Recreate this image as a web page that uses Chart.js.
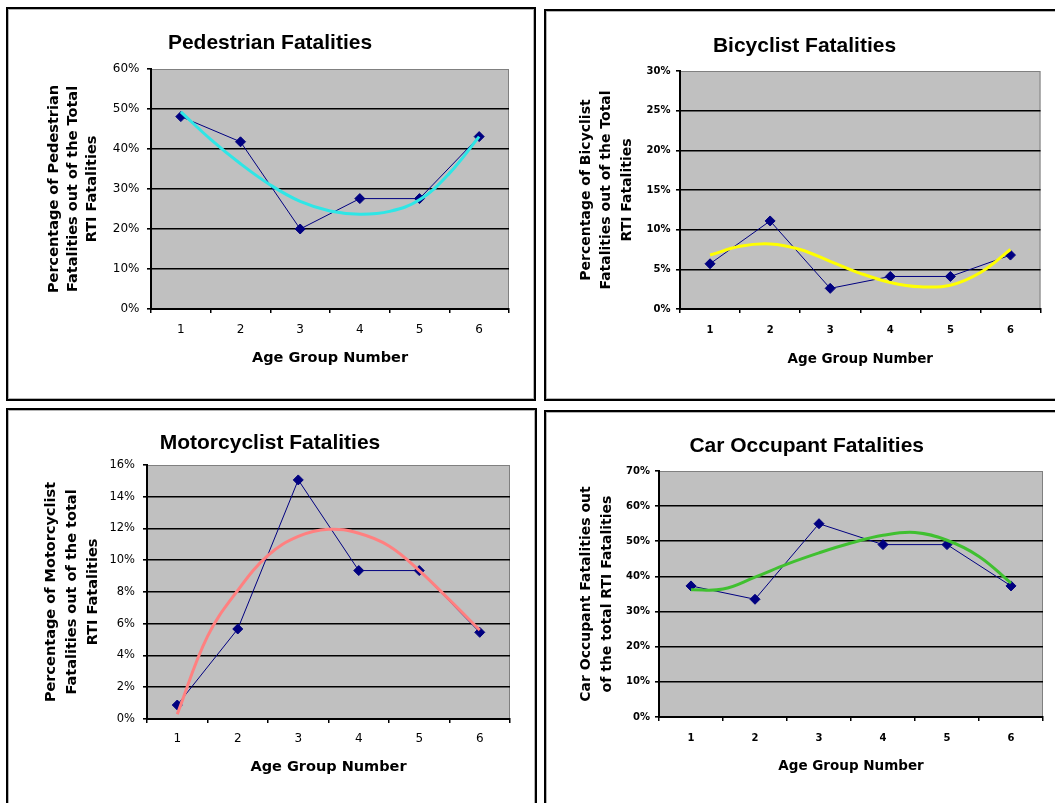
<!DOCTYPE html>
<html>
<head>
<meta charset="utf-8">
<title>RTI Fatalities by Age Group</title>
<script src="https://cdn.jsdelivr.net/npm/chart.js@4.4.1/dist/chart.umd.min.js"></script>
<style>
  html, body { margin: 0; padding: 0; background: #fff; }
  body { width: 1055px; height: 803px; position: relative; overflow: hidden; }
  .panel { position: absolute; box-sizing: border-box; border: 2px solid #000;
           box-shadow: inset 0 0 0 1px #b4b4b4; background: #fff; }
  canvas { position: absolute; left: 0; top: 0; }
</style>
</head>
<body>
<div class="panel" style="left:6px;top:7px;width:530px;height:394px"></div>
<div class="panel" style="left:544px;top:9px;width:600px;height:392px"></div>
<div class="panel" style="left:6px;top:408px;width:531px;height:500px"></div>
<div class="panel" style="left:544px;top:410px;width:600px;height:500px"></div>

<canvas id="pedestrian" width="1055" height="803"></canvas>
<canvas id="bicyclist" width="1055" height="803"></canvas>
<canvas id="motorcyclist" width="1055" height="803"></canvas>
<canvas id="car" width="1055" height="803"></canvas>

<script>
// Age groups on the horizontal axis
const ageGroups = ['1', '2', '3', '4', '5', '6'];
// Positions along the age axis where each trend curve is sampled
const trendPositions = [1, 1.5, 2, 2.5, 3, 3.5, 4, 4.5, 5, 5.5, 6];

// Share of all RTI fatalities (%) per age group, with the fitted trend
const pedestrianShare = [48.1, 41.8, 20.0, 27.6, 27.6, 43.1];
const pedestrianTrend = [49.3, 42.4, 36.3, 31.0, 26.9, 24.5, 23.7, 24.4, 27.3, 33.9, 43.1];
const pedestrianTicks = [0, 10, 20, 30, 40, 50, 60];

const bicyclistShare = [5.7, 11.1, 2.6, 4.1, 4.1, 6.8];
const bicyclistTrend = [6.8, 7.9, 8.2, 7.5, 6.0, 4.5, 3.35, 2.8, 3.0, 4.6, 7.5];
const bicyclistTicks = [0, 5, 10, 15, 20, 25, 30];

const motorcyclistShare = [0.88, 5.67, 15.06, 9.35, 9.35, 5.46];
const motorcyclistTrend = [0.3, 5.2, 8.1, 10.3, 11.5, 11.95, 11.7, 10.9, 9.35, 7.5, 5.6];
const motorcyclistTicks = [0, 2, 4, 6, 8, 10, 12, 14, 16];

const carShare = [37.3, 33.5, 55.0, 49.05, 49.05, 37.3];
const carTrend = [36.2, 36.4, 39.8, 43.5, 46.7, 49.5, 51.7, 52.5, 50.3, 45.7, 38.1];
const carTicks = [0, 10, 20, 30, 40, 50, 60, 70];

const CANVAS_W = 1055, CANVAS_H = 803;
const WIDE = 'DejaVu Sans, Verdana, sans-serif';
const TITLE_FAMILY = 'Liberation Sans, Arial, sans-serif';

// Grey plot area with a thin darker frame, painted under the grid
const plotBackground = {
  id: 'plotBackground',
  beforeDraw(chart) {
    const { ctx, chartArea: a } = chart;
    ctx.save();
    ctx.fillStyle = '#c0c0c0';
    ctx.fillRect(a.left, a.top, a.right - a.left, a.bottom - a.top);
    ctx.strokeStyle = '#808080';
    ctx.lineWidth = 1;
    ctx.strokeRect(a.left + 0.5, a.top + 0.5, a.right - a.left - 1, a.bottom - a.top - 1);
    ctx.restore();
  }
};

function makeChart(id, p) {
  const padL = 2 * p.titleX - p.plot.r;
  const titleLH = p.titleSize * 1.2;
  const titleTop = p.titleY - p.top - titleLH / 2;
  const titleBottom = p.plot.t - p.top - titleLH - titleTop;
  const yMin = p.ticks[0], yMax = p.ticks[p.ticks.length - 1];
  const yStep = p.ticks[1] - p.ticks[0];
  const yTitleLH = p.yTitleLine;
  const xTickLH = p.xTickFont.size * 1.2;
  const xTitleLH = p.xTitleFont.size * 1.2;

  return new Chart(document.getElementById(id), {
    type: 'line',
    data: {
      labels: ageGroups,
      datasets: [
        {
          label: 'Trend',
          data: trendPositions.map((x, i) => ({ x: x, y: p.trend[i] })),
          xAxisID: 'xt', yAxisID: 'y',
          borderColor: p.trendColor, borderWidth: 3,
          pointRadius: 0, tension: 0.4, fill: false, order: 0
        },
        {
          label: 'Share',
          data: p.values,
          xAxisID: 'x', yAxisID: 'y',
          borderColor: '#000080', borderWidth: 1,
          pointStyle: 'rectRot', pointRadius: 5,
          pointBackgroundColor: '#000080', pointBorderColor: '#000080',
          tension: 0, fill: false, order: 1
        }
      ]
    },
    options: {
      responsive: false,
      animation: false,
      devicePixelRatio: 1,
      events: [],
      layout: {
        padding: { left: padL, right: CANVAS_W - p.plot.r, top: p.top, bottom: CANVAS_H - p.bottom }
      },
      plugins: {
        legend: { display: false },
        tooltip: { enabled: false },
        title: {
          display: true,
          text: p.title,
          color: '#000',
          font: { family: TITLE_FAMILY, size: p.titleSize, weight: 'bold', lineHeight: 1.2 },
          padding: { top: titleTop, bottom: titleBottom }
        }
      },
      scales: {
        x: {
          type: 'category',
          position: 'bottom',
          offset: true,
          grid: { offset: true, drawOnChartArea: false, drawTicks: true, tickLength: 4, color: '#000', lineWidth: 1.5 },
          border: { display: true, color: '#000', width: 2 },
          ticks: {
            color: '#000', font: p.xTickFont, maxRotation: 0, autoSkip: false,
            padding: p.xTickY - p.plot.b - 4 - xTickLH / 2
          },
          title: {
            display: true, text: 'Age Group Number', color: '#000', font: p.xTitleFont,
            padding: { top: 0, bottom: p.bottom - p.xTitleY - xTitleLH / 2 }
          },
          afterFit: s => { s.height = p.bottom - p.plot.b; }
        },
        xt: { type: 'linear', display: false, min: 0.5, max: 6.5 },
        y: {
          type: 'linear',
          position: 'left',
          min: yMin, max: yMax,
          grid: {
            color: c => (c.tick && c.tick.value === yMax) ? 'rgba(0,0,0,0)' : '#000',
            tickColor: '#000', lineWidth: 1.6, drawTicks: true, tickLength: 4
          },
          border: { display: true, color: '#000', width: 2 },
          ticks: {
            stepSize: yStep, color: '#000', font: p.yTickFont,
            padding: p.plot.l - 4 - p.yTickRight,
            callback: v => v + '%'
          },
          title: {
            display: true, text: p.yTitle, color: '#000',
            font: Object.assign({}, p.yTitleFont, { lineHeight: yTitleLH + 'px' }),
            padding: { top: p.yTitleX - padL - yTitleLH / 2, bottom: 0 }
          },
          afterFit: s => { s.width = p.plot.l - padL; }
        }
      }
    },
    plugins: [plotBackground]
  });
}

makeChart('pedestrian', {
  title: 'Pedestrian Fatalities', titleSize: 21, titleX: 270, titleY: 43.5, top: 10, bottom: 398,
  plot: { l: 151, t: 69, r: 509, b: 309 },
  values: pedestrianShare, trend: pedestrianTrend, ticks: pedestrianTicks, trendColor: '#2ee6e6',
  yTitle: ['Percentage of Pedestrian', 'Fatalities out of the Total', 'RTI Fatalities'],
  yTitleFont: { family: WIDE, size: 14.5, weight: 'bold' }, yTitleLine: 19, yTitleX: 54,
  yTickFont: { family: WIDE, size: 12 }, yTickRight: 139.5,
  xTickFont: { family: WIDE, size: 12 }, xTickY: 330,
  xTitleFont: { family: WIDE, size: 14.5, weight: 'bold' }, xTitleY: 358
});

makeChart('bicyclist', {
  title: 'Bicyclist Fatalities', titleSize: 21, titleX: 804.5, titleY: 46.7, top: 11, bottom: 398,
  plot: { l: 680, t: 71, r: 1040.5, b: 309 },
  values: bicyclistShare, trend: bicyclistTrend, ticks: bicyclistTicks, trendColor: '#ffff00',
  yTitle: ['Percentage of Bicyclist', 'Fatalities out of the Total', 'RTI Fatalities'],
  yTitleFont: { family: WIDE, size: 14, weight: 'bold' }, yTitleLine: 20.5, yTitleX: 586,
  yTickFont: { family: WIDE, size: 10, weight: 'bold' }, yTickRight: 670.5,
  xTickFont: { family: WIDE, size: 10, weight: 'bold' }, xTickY: 330,
  xTitleFont: { family: WIDE, size: 13.5, weight: 'bold' }, xTitleY: 359
});

makeChart('motorcyclist', {
  title: 'Motorcyclist Fatalities', titleSize: 21, titleX: 270, titleY: 443, top: 410, bottom: 803,
  plot: { l: 147, t: 465, r: 510, b: 719 },
  values: motorcyclistShare, trend: motorcyclistTrend, ticks: motorcyclistTicks, trendColor: '#ff8080',
  yTitle: ['Percentage of Motorcyclist', 'Fatalities out of the total', 'RTI Fatalities'],
  yTitleFont: { family: WIDE, size: 14.5, weight: 'bold' }, yTitleLine: 21, yTitleX: 51,
  yTickFont: { family: WIDE, size: 11.5 }, yTickRight: 135,
  xTickFont: { family: WIDE, size: 12 }, xTickY: 739,
  xTitleFont: { family: WIDE, size: 14.5, weight: 'bold' }, xTitleY: 767.7
});

makeChart('car', {
  title: 'Car Occupant Fatalities', titleSize: 21, titleX: 806.7, titleY: 446, top: 412, bottom: 803,
  plot: { l: 659, t: 471, r: 1043, b: 717 },
  values: carShare, trend: carTrend, ticks: carTicks, trendColor: '#40c030',
  yTitle: ['Car Occupant Fatalities out', 'of the total RTI Fatalities'],
  yTitleFont: { family: WIDE, size: 14, weight: 'bold' }, yTitleLine: 20.6, yTitleX: 586.7,
  yTickFont: { family: WIDE, size: 10, weight: 'bold' }, yTickRight: 650,
  xTickFont: { family: WIDE, size: 10, weight: 'bold' }, xTickY: 738,
  xTitleFont: { family: WIDE, size: 13.5, weight: 'bold' }, xTitleY: 766.7
});
</script>
</body>
</html>
